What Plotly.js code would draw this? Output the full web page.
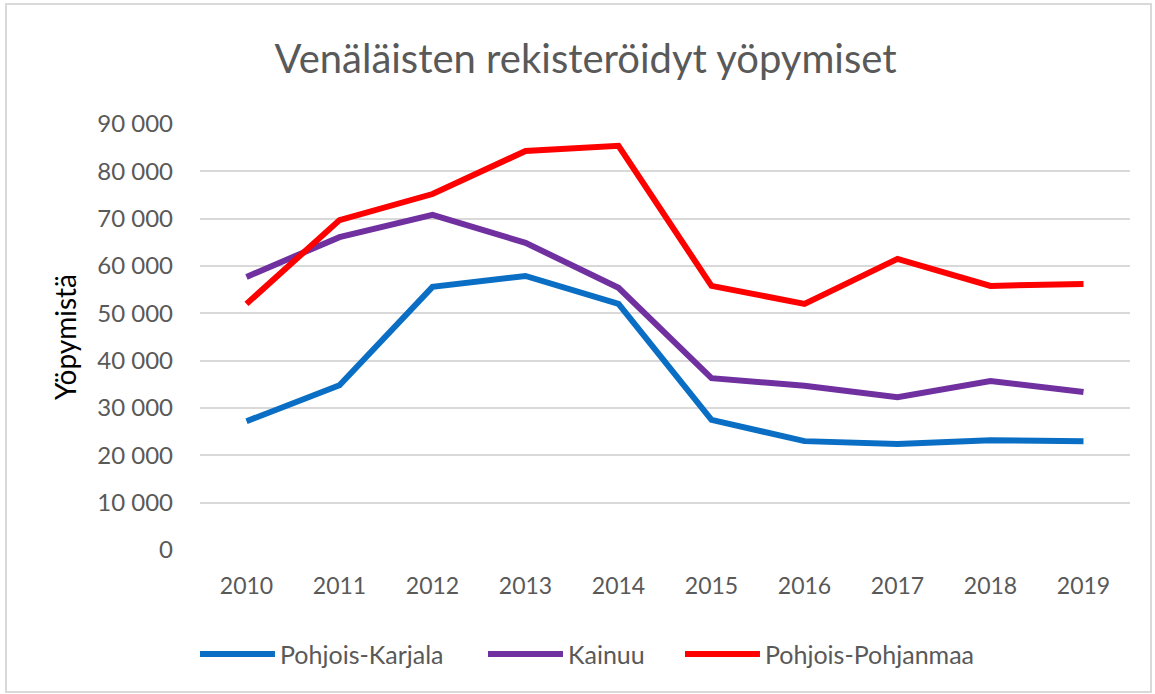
<!DOCTYPE html>
<html><head><meta charset="utf-8">
<script src="https://cdn.plot.ly/plotly-3.0.1.min.js"></script>
<style>
body{margin:0;background:#fff;}
#wrap{position:relative;width:1155px;height:694px;}
#chart{width:1155px;height:694px;}
#frame{position:absolute;left:5px;top:3px;width:1143px;height:686px;border:2px solid #d9d9d9;pointer-events:none;}
</style></head>
<body><div id="wrap"><div id="chart"></div><div id="frame"></div></div>
<script>
const years = ['2010','2011','2012','2013','2014','2015','2016','2017','2018','2019'];
const pohjoisKarjala = [27200, 34800, 55600, 57900, 52000, 27500, 23000, 22400, 23200, 23000];
const kainuu = [57700, 66100, 70800, 64900, 55400, 36300, 34700, 32300, 35700, 33400];
const pohjoisPohjanmaa = [52000, 69700, 75200, 84300, 85400, 55800, 52000, 61500, 55800, 56200];
const seriesNames = ['Pohjois-Karjala', 'Kainuu', 'Pohjois-Pohjanmaa'];
const colors = ['#0a6fc4', '#7030a0', '#ff0000'];
const values = [pohjoisKarjala, kainuu, pohjoisPohjanmaa];
const legendIds = ['legend', 'legend2', 'legend3'];
const legendX = [-0.0054, 0.3043, 0.5161];

const font = "Lato, 'Open Sans', sans-serif";
const traces = values.map((v, i) => ({
  x: years, y: v, name: seriesNames[i], type: 'scatter', mode: 'lines',
  line: {color: colors[i], width: 6}, legend: legendIds[i]
}));

const legendBase = (x) => ({orientation: 'h', x: x, xanchor: 'left', y: -0.245, yanchor: 'middle',
  font: {family: font, size: 25, color: '#595959'}, itemwidth: 75,
  bgcolor: 'rgba(0,0,0,0)'});

const layout = {
  width: 1155, height: 694,
  margin: {l: 200, r: 25, t: 124, b: 144},
  paper_bgcolor: '#fff', plot_bgcolor: '#fff',
  separators: ', ',
  title: {text: 'Venäläisten rekisteröidyt yöpymiset', x: 0.507, xanchor: 'center', y: 0.915, yanchor: 'middle',
    font: {family: font, size: 40, color: '#595959'}},
  xaxis: {type: 'category', range: [-0.5, 9.5], showgrid: false, zeroline: false,
    showline: false, ticks: '', ticklabelstandoff: 20,
    tickfont: {family: font, size: 23, color: '#595959'}},
  yaxis: {range: [0, 90000], dtick: 10000, tickformat: ',d', showgrid: true, gridcolor: '#d9d9d9', gridwidth: 2,
    zeroline: false, showline: false, ticks: '', ticklabelstandoff: 26,
    tickfont: {family: font, size: 24, color: '#595959'},
    title: {text: 'Yöpymistä', standoff: 12, font: {family: font, size: 28, color: '#000'}}},
  showlegend: true,
  legend: legendBase(legendX[0]),
  legend2: legendBase(legendX[1]),
  legend3: legendBase(legendX[2])
};
Plotly.newPlot('chart', traces, layout, {displayModeBar: false, staticPlot: true});
</script></body></html>
